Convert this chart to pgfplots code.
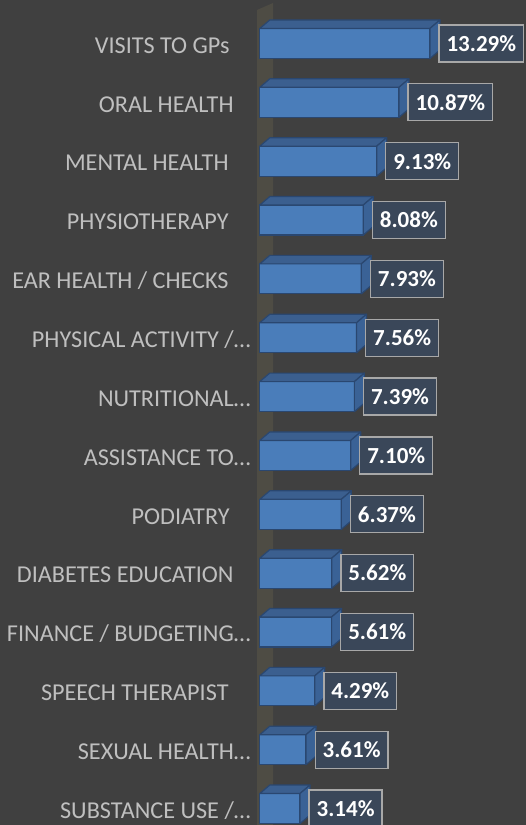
\documentclass[border=0pt]{standalone}
\usepackage{fontspec}
\setmainfont{Carlito}
\usepackage{pgfplots}
\pgfplotsset{compat=1.18}
\usepackage{pgfplotstable}
\definecolor{bg}{HTML}{404040}
\definecolor{wall}{HTML}{4E4C44}
\definecolor{barfront}{HTML}{4A7DBA}
\definecolor{bartop}{HTML}{3B5F8F}
\definecolor{barside}{HTML}{3A6296}
\definecolor{baredge}{HTML}{2A4770}
\definecolor{lblfill}{HTML}{3A4759}
\definecolor{lblborder}{HTML}{A8A8A8}
\definecolor{cat}{HTML}{BFBFBF}
\pgfdeclareplotmark{nomark}{}
\pgfplotstableread{
idx val
0 13.29
1 10.87
2 9.13
3 8.08
4 7.93
5 7.56
6 7.39
7 7.10
8 6.37
9 5.62
10 5.61
11 4.29
12 3.61
13 3.14
}\datatable
\newcommand{\tsp}[1][22]{\rule{#1bp}{0pt}}
\begin{document}
\begin{tikzpicture}
\path[use as bounding box, fill=bg] (0,0) rectangle (526bp,825bp);
\fill[wall] (257bp,0) -- (257bp,815bp) -- (273bp,822bp) -- (273bp,0) -- cycle;
\begin{axis}[
  at={(259.8bp,822.7bp)}, anchor=north west,
  x=12.8bp, y=58.85bp, y dir=reverse,
  xmin=0, xmax=20.7, ymin=-0.7, ymax=13.7,
  clip=false,
  axis line style={draw=none},
  xtick=\empty,
  ytick={0,...,13},
  major tick length=0pt,
  yticklabels={
    {VISITS TO GPs\tsp[21]},
    {ORAL HEALTH\tsp[17]},
    {MENTAL HEALTH\tsp},
    {PHYSIOTHERAPY\tsp},
    {EAR HEALTH / CHECKS\tsp},
    {PHYSICAL ACTIVITY /…},
    {NUTRITIONAL…},
    {ASSISTANCE TO…},
    {PODIATRY\tsp[21]},
    {DIABETES EDUCATION\tsp[17]},
    {FINANCE / BUDGETING…},
    {SPEECH THERAPIST\tsp},
    {SEXUAL HEALTH…},
    {SUBSTANCE USE /…}},
  yticklabel style={font=\fontsize{24.2bp}{29bp}\selectfont, text=cat,
    anchor=east, inner sep=0pt, xshift=-9bp, yshift=-2bp},
]
% 3D top and side faces of the bars
\addplot[scatter, only marks, mark=nomark,
  visualization depends on={\thisrow{val} \as \bv},
  scatter/@pre marker code/.code={%
    \pgfmathsetmacro\L{-\bv*12.8}%
    \pgfmathsetmacro\Lb{\L+10}%
    \fill[bartop, draw=baredge, line width=1.2bp, line join=round]
      (\L bp,15bp) -- (0bp,15bp) -- (10bp,23.5bp) -- (\Lb bp,23.5bp) -- cycle;
    \fill[barside, draw=baredge, line width=1.2bp, line join=round]
      (0bp,-15bp) -- (0bp,15bp) -- (10bp,23.5bp) -- (10bp,-6.5bp) -- cycle;
  },
  scatter/@post marker code/.code={},
] table[x=val, y=idx] {\datatable};
% front faces with value labels
\addplot[xbar, bar width=30bp, bar shift=0pt, fill=barfront, draw=baredge,
  line width=1.2bp,
  point meta=x,
  nodes near coords={\pgfmathprintnumber[fixed,fixed zerofill,precision=2,assume math mode=true]{\pgfplotspointmeta}\%},
  nodes near coords align={horizontal},
  every node near coord/.append style={anchor=west, xshift=8.5bp,
    fill=lblfill, draw=lblborder, line width=1.3bp, text=white,
    font=\fontsize{23bp}{27bp}\selectfont\bfseries,
    minimum height=37bp, inner xsep=7.5bp, inner ysep=0pt},
] table[x=val, y=idx] {\datatable};
\end{axis}
\end{tikzpicture}
\end{document}
